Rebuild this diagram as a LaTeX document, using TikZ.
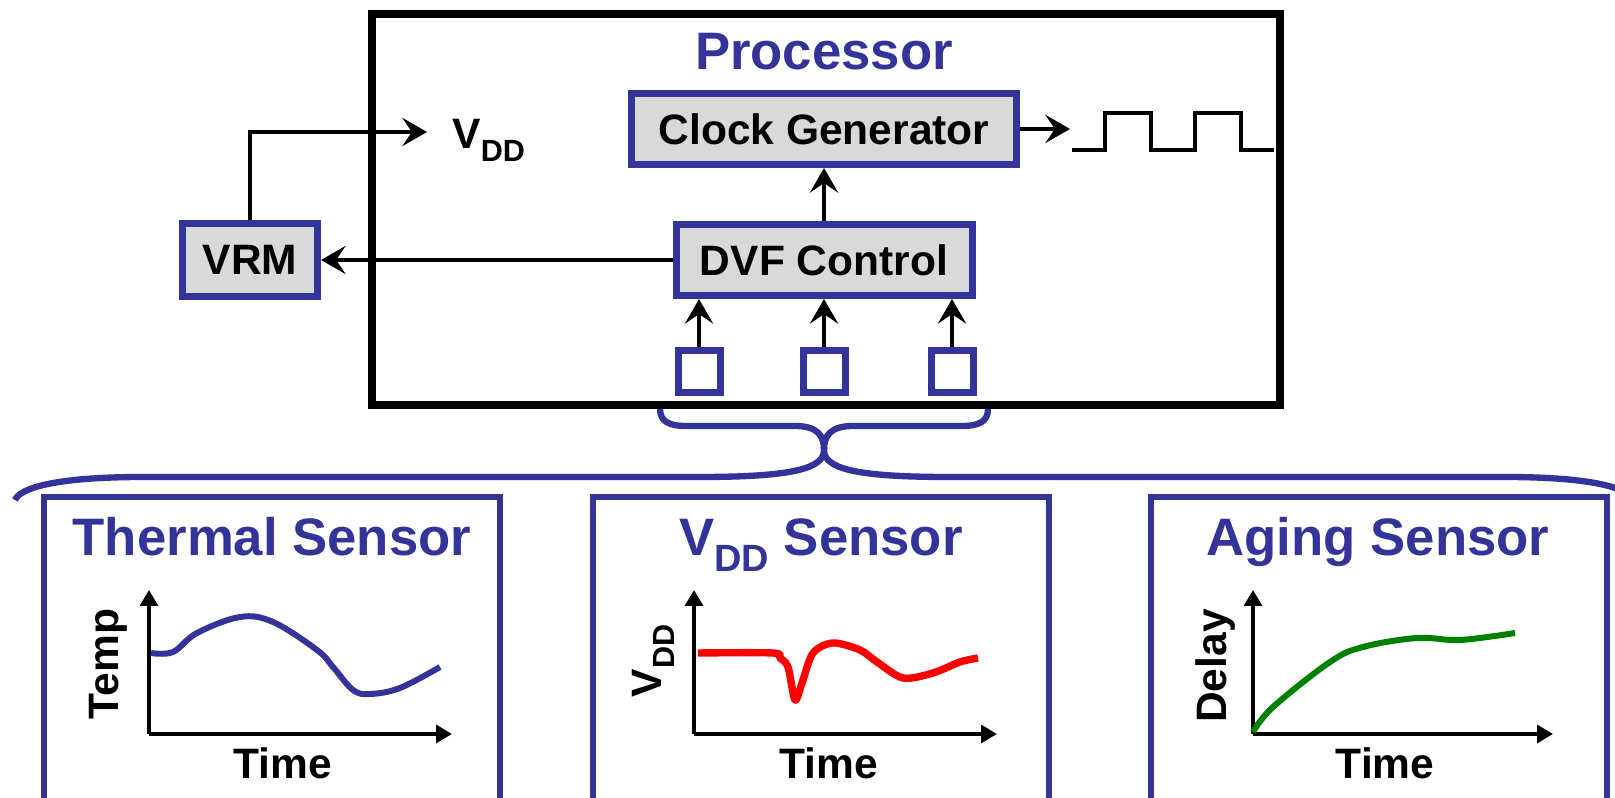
\documentclass[tikz,border=0pt]{standalone}
\usepackage{fontspec}
\setmainfont{Liberation Sans}
\usepackage{graphicx}
\usetikzlibrary{arrows.meta}
\definecolor{procblue}{RGB}{51,51,153}
\definecolor{boxgrey}{RGB}{217,217,217}
\definecolor{agegreen}{RGB}{0,128,0}
\newcommand{\vddtxt}{V\raisebox{-0.3em}{\scalebox{0.72}{DD}}}

\begin{document}
\begin{tikzpicture}[font=\fontsize{12.1}{14}\selectfont\bfseries,
  blk/.style={draw=procblue,line width=2pt,fill=boxgrey,inner sep=0pt,minimum height=0.71cm},
  sq/.style={draw=procblue,line width=2pt,fill=white,minimum size=0.42cm,inner sep=0pt},
  wire/.style={line width=1.4pt,-{Stealth[length=7pt,width=8pt,inset=2.7pt]}},
  axis/.style={line width=1.4pt,-{Triangle[length=4.5pt,width=5pt]}},
  sensbox/.style={draw=procblue,line width=1.6pt,minimum width=4.56cm,minimum height=3.6cm,anchor=north,inner sep=0pt},
  ttl/.style={text=procblue,font=\fontsize{15}{18}\selectfont\bfseries,anchor=base}]
\useasboundingbox (0,0) rectangle (16.15,7.98);
\clip (0,0) rectangle (16.15,7.98);

\node[draw,line width=2.2pt,minimum width=9.08cm,minimum height=3.91cm] (proc) at (8.26,5.885) {};
\node[ttl] (proctitle) at (8.24,7.28) {Processor};
\node[blk,minimum width=3.85cm] (clk) at (8.24,6.69) {Clock Generator};
\node[blk,minimum width=2.96cm] (dvf) at (8.24,5.38) {DVF Control};
\node[blk,minimum width=1.35cm,minimum height=0.73cm] (vrm) at (2.50,5.38) {VRM};
\node[sq] (s1) at (6.99,4.26) {};
\node[sq] (s2) at (8.24,4.26) {};
\node[sq] (s3) at (9.52,4.26) {};
\node[anchor=base west] (vddlbl) at (4.40,6.49) {\vddtxt};
\coordinate (vddin) at (4.27,6.66);
\coordinate (wave) at (10.70,6.69);

\draw[wire] (vrm.north) |- (vddin);
\draw[wire] (dvf.west) -- (vrm.east);
\draw[wire] (dvf.north) -- (clk.south);
\draw[wire] (clk.east) -- (wave);
\draw[wire] (s1.north) -- (s1.north |- dvf.south);
\draw[wire] (s2.north) -- (s2.north |- dvf.south);
\draw[wire] (s3.north) -- (s3.north |- dvf.south);
\draw[line width=1.4pt] (10.72,6.48) -- (11.05,6.48) -- (11.05,6.85) -- (11.51,6.85) -- (11.51,6.48)
  -- (11.95,6.48) -- (11.95,6.85) -- (12.41,6.85) -- (12.41,6.48) -- (12.74,6.48);

\draw[procblue,line width=1.8pt] (6.60,3.89) .. controls (6.60,3.76) and (6.70,3.72) .. (6.86,3.72) -- (7.95,3.72)
  .. controls (8.18,3.72) and (8.24,3.62) .. (8.24,3.48);
\draw[procblue,line width=1.8pt] (9.88,3.89) .. controls (9.88,3.76) and (9.78,3.72) .. (9.62,3.72) -- (8.53,3.72)
  .. controls (8.30,3.72) and (8.24,3.62) .. (8.24,3.48);
\draw[procblue,line width=1.8pt] (8.24,3.48) .. controls (8.24,3.30) and (7.95,3.21) .. (7.00,3.21) -- (1.44,3.21)
  .. controls (0.55,3.21) and (0.20,3.10) .. (0.15,2.98);
\draw[procblue,line width=1.8pt] (8.24,3.48) .. controls (8.24,3.30) and (8.53,3.21) .. (9.48,3.21) -- (15.04,3.21)
  .. controls (15.93,3.21) and (16.28,3.10) .. (16.33,2.98);

\node[sensbox] (thermbox) at (2.72,3.04) {};
\node[sensbox] (vddbox) at (8.21,3.04) {};
\node[sensbox] (agebox) at (13.79,3.04) {};
\node[ttl] (thermttl) at (2.72,2.42) {Thermal Sensor};
\node[ttl] (vddttl) at (8.21,2.42) {\vddtxt{} Sensor};
\node[ttl] (agettl) at (13.78,2.42) {Aging Sensor};

\coordinate (o1) at (1.49,0.64);
\coordinate (o2) at (6.94,0.64);
\coordinate (o3) at (12.53,0.64);
\draw[axis] (o1) -- (1.49,2.08);
\draw[axis] (o1) -- (4.52,0.64);
\draw[axis] (o2) -- (6.94,2.08);
\draw[axis] (o2) -- (9.97,0.64);
\draw[axis] (o3) -- (12.53,2.08);
\draw[axis] (o3) -- (15.53,0.64);
\node[anchor=base] (t1) at (2.83,0.19) {Time};
\node[anchor=base] (t2) at (8.29,0.19) {Time};
\node[anchor=base] (t3) at (13.85,0.19) {Time};
\node[rotate=90] (templbl) at (1.08,1.34) {Temp};
\node[rotate=90] (vddaxis) at (6.53,1.37) {\vddtxt};
\node[rotate=90] (delaylbl) at (12.15,1.32) {Delay};

\draw[procblue,line width=1.7pt] plot[smooth,tension=0.6] coordinates {(1.51,1.45) (1.73,1.46) (1.97,1.65)
  (2.40,1.81) (2.73,1.76) (3.17,1.48) (3.33,1.31) (3.53,1.08) (3.70,1.04) (4.00,1.10) (4.40,1.31)};
\draw[red,line width=2.1pt,line join=round] plot[smooth,tension=0.5] coordinates {(6.98,1.45) (7.73,1.45)
  (7.80,1.40) (7.88,1.31) (7.95,0.98) (8.02,1.15) (8.13,1.45) (8.33,1.55) (8.60,1.48) (8.77,1.36)
  (9.03,1.20) (9.33,1.25) (9.60,1.36) (9.78,1.40)};
\draw[agegreen,line width=1.7pt] plot[smooth,tension=0.6] coordinates {(12.53,0.66) (12.73,0.91)
  (13.30,1.36) (13.63,1.51) (14.17,1.60) (14.60,1.58) (15.15,1.65)};
\end{tikzpicture}
\end{document}
